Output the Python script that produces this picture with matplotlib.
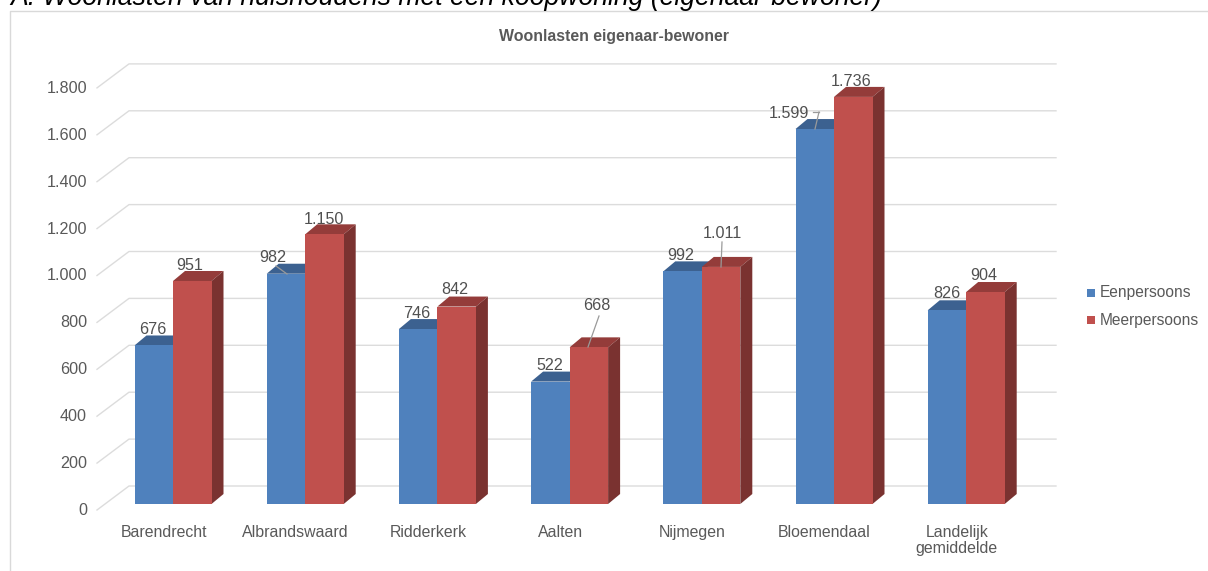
import matplotlib
matplotlib.use('Agg')
import matplotlib.pyplot as plt
from matplotlib.patches import Polygon, Rectangle

plt.rcParams['font.family'] = ['Liberation Sans', 'DejaVu Sans']

W, H = 1208, 571

# data
plaatsen = ['Barendrecht', 'Albrandswaard', 'Ridderkerk', 'Aalten', 'Nijmegen', 'Bloemendaal', 'Landelijk\ngemiddelde']
eenpersoons = [676, 982, 746, 522, 992, 1599, 826]
meerpersoons = [951, 1150, 842, 668, 1011, 1736, 904]
y_ticks = [0, 200, 400, 600, 800, 1000, 1200, 1400, 1600, 1800]
y_labels = ['0', '200', '400', '600', '800', '1.000', '1.200', '1.400', '1.600', '1.800']

BLUE = '#4f81bd'
BLUE_TOP = '#3c6190'
RED = '#c0504d'
RED_TOP = '#943c3a'
RED_SIDE = '#7a3230'

fig = plt.figure(figsize=(W / 100, H / 100), dpi=100)
ax = fig.add_axes([0, 0, 1, 1])
ax.set_xlim(0, W)
ax.set_ylim(H, 0)
ax.axis('off')

# scale of the fake 3d plot, in pixels
px_per_unit = 0.2345
cat_start = 173
cat_step = 132.2


def grid_y(v, base):
    return base - v * px_per_unit


# outer frame and heading
ax.plot([9.5, 9.5, W], [H, 11, 11], color='#d9d9d9', lw=1)
ax.text(10, 5, 'A. Woonlasten van huishoudens met een koopwoning (eigenaar-bewoner)',
        fontsize=19.2, style='italic', color='black', ha='left', va='baseline')
ax.text(614, 36, 'Woonlasten eigenaar-bewoner', fontsize=11.4, fontweight='bold',
        color='#595959', ha='center', va='center')

# gridlines with the slanted part on the left wall
for v, lab in zip(y_ticks, y_labels):
    ax.plot([97, 129, 1056], [grid_y(v, 510), grid_y(v, 486), grid_y(v, 486)],
            color='#dcdcdc', lw=1, zorder=1)
    ax.text(87, grid_y(v, 510.5), lab, fontsize=11.6, color='#595959',
            ha='right', va='center')

# bars, front face then top and side
depth_x, depth_y = 12, 10
bar_w = 38.5
for i, (a, b) in enumerate(zip(eenpersoons, meerpersoons)):
    mid = cat_start + cat_step * i
    for left, v, front, top in [(mid - bar_w, a, BLUE, BLUE_TOP), (mid, b, RED, RED_TOP)]:
        y0 = 504
        y1 = grid_y(v, 504)
        ax.add_patch(Polygon([(left, y1), (left + depth_x, y1 - depth_y),
                              (left + bar_w + depth_x, y1 - depth_y), (left + bar_w, y1)],
                             color=top, lw=0, zorder=2 if left < mid else 4))
        if left == mid:
            ax.add_patch(Polygon([(left + bar_w, y1), (left + bar_w + depth_x, y1 - depth_y),
                                  (left + bar_w + depth_x, y0 - depth_y), (left + bar_w, y0)],
                                 color=RED_SIDE, lw=0, zorder=4))
        ax.add_patch(Rectangle((left, y1), bar_w, y0 - y1, color=front, lw=0,
                               zorder=3 if left < mid else 5))
    ax.text(mid - 9.5, 525, plaatsen[i], fontsize=11.4, color='#595959',
            ha='center', va='top', linespacing=1.1)

# value labels, placed by hand like in the original
label_pos_a = [(153, 329), (273, 258), (417, 313), (550, 366), (681, 255), (789, 113), (947, 294)]
label_pos_b = [(190, 266), (324, 219), (455, 290), (597, 306), (722, 234), (851, 81), (984, 276)]
for vals, pos in [(eenpersoons, label_pos_a), (meerpersoons, label_pos_b)]:
    for v, (x, y) in zip(vals, pos):
        txt = f'{v:,}'.replace(',', '.')
        ax.text(x, y, txt, fontsize=11.6, color='#505050', ha='center', va='center', zorder=7)

# leader lines
leaders = [((276, 266), (287, 274)), ((599, 316), (588, 347)), ((722, 242), (721, 267)),
           ((813, 112), (819, 112)), ((819, 112), (815, 129))]
for p, q in leaders:
    ax.plot([p[0], q[0]], [p[1], q[1]], color='#9a9a9a', lw=0.9, zorder=6)

# legend
for y, col, name in [(293, BLUE, 'Eenpersoons'), (320, RED, 'Meerpersoons')]:
    ax.add_patch(Rectangle((1087, y - 4), 8, 8, color=col, lw=0))
    ax.text(1100, y, name, fontsize=11.2, color='#595959', ha='left', va='center')

fig.savefig('out.png', dpi=100)
